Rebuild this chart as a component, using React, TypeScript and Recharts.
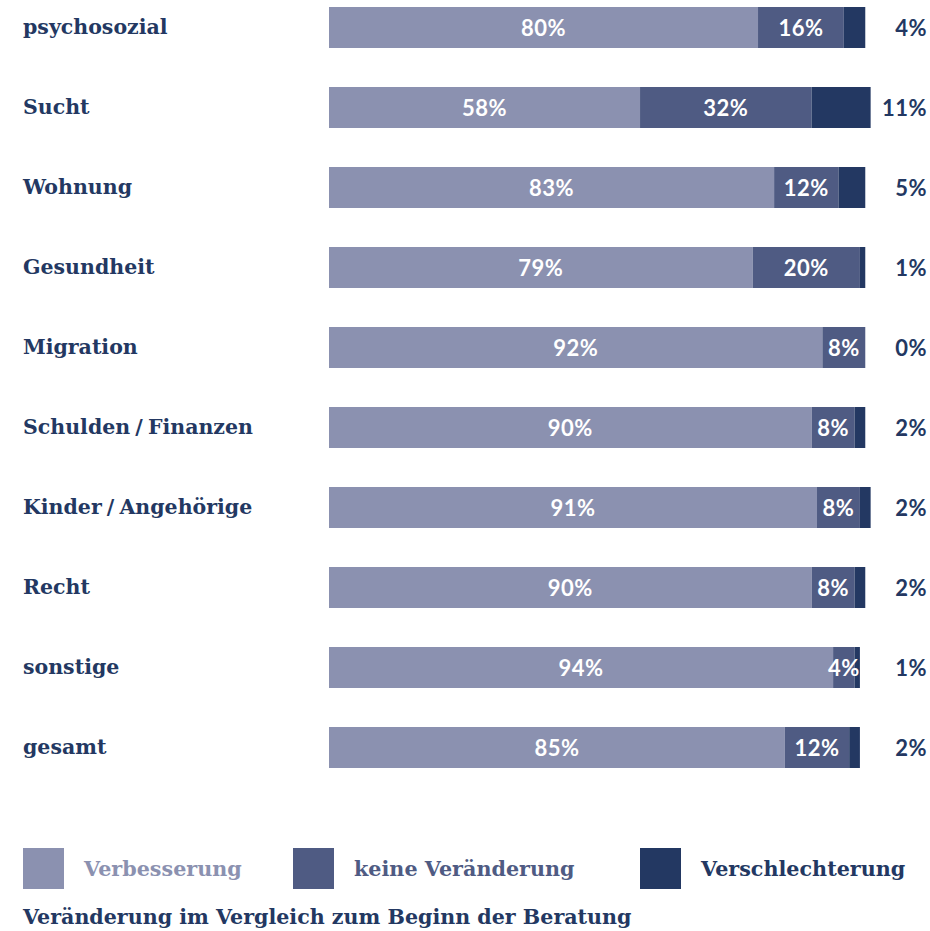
import React from "react";
import { BarChart, Bar, XAxis, YAxis, LabelList } from "recharts";

const categories = [
  "psychosozial",
  "Sucht",
  "Wohnung",
  "Gesundheit",
  "Migration",
  "Schulden / Finanzen",
  "Kinder / Angehörige",
  "Recht",
  "sonstige",
  "gesamt",
];
const verbesserung = [80, 58, 83, 79, 92, 90, 91, 90, 94, 85];
const keineVeraenderung = [16, 32, 12, 20, 8, 8, 8, 8, 4, 12];
const verschlechterung = [4, 11, 5, 1, 0, 2, 2, 2, 1, 2];

const seriesNames = ["Verbesserung", "keine Veränderung", "Verschlechterung"];
const colors = ["#8b91b0", "#4f5b83", "#233862"];
const textNavy = "#233862";
const title = "Veränderung im Vergleich zum Beginn der Beratung";

const data = categories.map((c, i) => ({
  name: c,
  v: verbesserung[i],
  k: keineVeraenderung[i],
  s: verschlechterung[i],
}));

const W = 930;
const serif = "'DejaVu Serif', serif";
const sans = "Lato, 'Open Sans', sans-serif";

const CatTick = (props: any) => {
  const { y, payload } = props;
  return (
    <text
      x={23}
      y={y}
      dy={7}
      textAnchor="start"
      fill={textNavy}
      style={{ fontFamily: serif, fontWeight: 700, fontSize: 20.5, wordSpacing: -2 }}
    >
      {payload.value}
    </text>
  );
};

const InnerLabel = (props: any) => {
  const { x, y, width, height, value } = props;
  return (
    <text
      x={x + width / 2}
      y={y + height / 2}
      dy={8}
      textAnchor="middle"
      fill="#ffffff"
      style={{ fontFamily: sans, fontWeight: 700, fontSize: 22, letterSpacing: 0.5 }}
    >
      {`${value}%`}
    </text>
  );
};

const OuterLabel = (props: any) => {
  const { y, height, value } = props;
  return (
    <text
      x={W - 3}
      y={y + height / 2}
      dy={8}
      textAnchor="end"
      fill={textNavy}
      style={{ fontFamily: sans, fontWeight: 700, fontSize: 22, letterSpacing: 0.5 }}
    >
      {`${value}%`}
    </text>
  );
};

export default function App() {
  return (
    <div style={{ position: "absolute", left: 0, top: 0, width: W, height: 931, background: "#fff" }}>
      <BarChart
        width={W}
        height={800}
        data={data}
        layout="vertical"
        margin={{ top: -13, right: 54, bottom: 13, left: 0 }}
        barSize={41}
      >
        <XAxis type="number" hide domain={[0, 102]} />
        <YAxis
          type="category"
          dataKey="name"
          width={329}
          axisLine={false}
          tickLine={false}
          tick={<CatTick />}
          interval={0}
        />
        <Bar dataKey="v" stackId="a" fill={colors[0]} isAnimationActive={false}>
          <LabelList dataKey="v" content={<InnerLabel />} />
        </Bar>
        <Bar dataKey="k" stackId="a" fill={colors[1]} isAnimationActive={false}>
          <LabelList dataKey="k" content={<InnerLabel />} />
          <LabelList dataKey="s" content={<OuterLabel />} />
        </Bar>
        <Bar dataKey="s" stackId="a" fill={colors[2]} isAnimationActive={false} />
      </BarChart>
      {seriesNames.map((n, i) => (
        <div
          key={n}
          style={{
            position: "absolute",
            top: 848,
            left: [23, 293, 640][i],
            display: "flex",
            alignItems: "center",
            height: 41,
          }}
        >
          <div style={{ width: 41, height: 41, background: colors[i] }} />
          <span
            style={{
              marginLeft: 20,
              fontFamily: serif,
              fontWeight: 700,
              fontSize: 20.7,
              color: colors[i],
              whiteSpace: "nowrap",
            }}
          >
            {n}
          </span>
        </div>
      ))}
      <div
        style={{
          position: "absolute",
          top: 905,
          left: 23,
          fontFamily: serif,
          fontWeight: 700,
          fontSize: 20.6,
          color: textNavy,
          whiteSpace: "nowrap",
        }}
      >
        {title}
      </div>
    </div>
  );
}
